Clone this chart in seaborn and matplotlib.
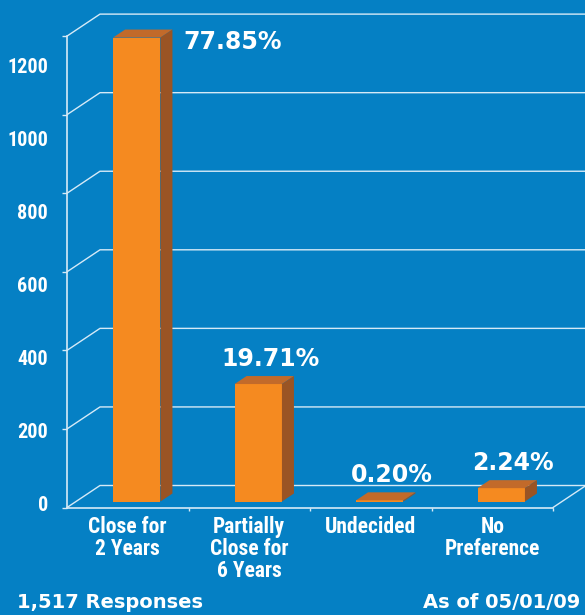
import matplotlib
matplotlib.use("Agg")
import matplotlib.pyplot as plt
import seaborn as sns
import pandas as pd
from matplotlib.patches import Polygon
from matplotlib import font_manager
from matplotlib.font_manager import FontProperties

# ---- data ----
categories = ["Close for\n2 Years", "Partially\nClose for\n6 Years", "Undecided", "No\nPreference"]
counts = [1181, 299, 3, 34]
pct_labels = ["77.85%", "19.71%", "0.20%", "2.24%"]
yticks = [0, 200, 400, 600, 800, 1000, 1200]
footer_left = "1,517 Responses"
footer_right = "As of 05/01/09"

# ---- style ----
BG = "#0580C4"
FRONT = "#F58A20"
TOP = "#C26A2A"
SIDE = "#9A5424"
GRID = "#D6EAF7"

sns.set_theme(style="white")
WIDE = "DejaVu Sans"
plt.rcParams["font.family"] = [WIDE]


def find_condensed():
    best = None
    score_best = -1
    for f in font_manager.fontManager.ttflist:
        fn = f.fname.lower()
        nm = f.name.lower()
        cond = ("condensed" in fn or "narrow" in fn or "condensed" in nm or "narrow" in nm
                or f.stretch in ("condensed", "semi-condensed", "extra-condensed"))
        if not cond:
            continue
        if "extra" in fn or "semicondensed" in fn or "semi" in fn:
            continue
        w = f.weight if isinstance(f.weight, int) else 700 if "bold" in str(f.weight) else 400
        bold = w >= 600 or "bold" in fn
        if not bold or "italic" in fn or "oblique" in fn:
            continue
        if "black" in fn or "extrabold" in fn or "semibold" in fn:
            continue
        s = 1
        if "noto" in fn:
            s = 3
        if "liberation" in fn or "roboto" in fn:
            s = 4
        if "dejavu" in fn:
            s = 2
        if s > score_best:
            score_best, best = s, f.fname
    return best


cpath = find_condensed()
if cpath:
    NFP = lambda size: FontProperties(fname=cpath, size=size)
    XS, YS = 15.5, 14.5
else:
    NFP = lambda size: FontProperties(family=WIDE, weight="bold", size=size)
    XS, YS = 12, 11.5

fig = plt.figure(figsize=(5.85, 6.15), dpi=100, facecolor=BG)
ax = fig.add_axes([67 / 585, 107.5 / 615, 486 / 585, 493 / 615])
ax.set_facecolor("none")

df = pd.DataFrame({"cat": categories, "count": counts})
sns.barplot(data=df, x="cat", y="count", color=FRONT, saturation=1, width=0.39,
            ax=ax, linewidth=0, zorder=3)

ax.set_xlim(-0.5, 3.5)
ax.set_ylim(0, 1255)

PX_X = 121.5      # px per category
PX_Y = 0.3929     # px per unit
DX, DY = 33 / PX_X, 22 / PX_Y        # back wall offset
FDX, FDY = 9 / PX_X, 6 / PX_Y        # bar front offset
BDX, BDY = 12 / PX_X, 8 / PX_Y       # bar depth

# back wall / floor grid
for v in yticks:
    ax.plot([-0.5, -0.5 + DX, 3.5 + DX], [v, v + DY, v + DY], color=GRID, lw=1.0,
            clip_on=False, zorder=1, solid_capstyle="butt")
ax.plot([3.5, 3.5 + DX], [0, DY], color=GRID, lw=1.0, clip_on=False, zorder=1)

# 3D bars
for i, p in enumerate(ax.patches):
    x0 = p.get_x() + FDX
    w = p.get_width()
    h = p.get_height()
    p.set_x(x0)
    p.set_y(FDY)
    top = FDY + h
    x1 = x0 + w
    ax.add_patch(Polygon([(x0, top), (x1, top), (x1 + BDX, top + BDY), (x0 + BDX, top + BDY)],
                         closed=True, facecolor=TOP, edgecolor="none", zorder=4))
    ax.add_patch(Polygon([(x1, FDY), (x1 + BDX, FDY + BDY), (x1 + BDX, top + BDY), (x1, top)],
                         closed=True, facecolor=SIDE, edgecolor="none", zorder=4))
    if i == 0:
        ax.text(x1 + BDX + 0.087, top - 28, pct_labels[i], ha="left", va="baseline",
                color="white", fontsize=17, fontweight="bold", family=WIDE, zorder=5)
    else:
        ax.text(x0 + w / 2 + 0.1, top + 46, pct_labels[i], ha="center", va="baseline",
                color="white", fontsize=17, fontweight="bold", family=WIDE, zorder=5)

# axes lines
for s in ["top", "right"]:
    ax.spines[s].set_visible(False)
ax.spines["left"].set_bounds(0, 1200)
ax.spines["left"].set_color(GRID)
ax.spines["left"].set_linewidth(1.2)
ax.spines["bottom"].set_color(GRID)
ax.spines["bottom"].set_linewidth(1.2)

ax.set_yticks(yticks)
ax.set_yticklabels([""] * len(yticks))
ax.tick_params(axis="y", left=True, length=3.6, width=1.0, color=GRID, direction="out")
ax.set_xticks(range(len(categories)))
ax.set_xticklabels(categories)
ax.set_xticks([0.5, 1.5, 2.5, 3.5], minor=True)
ax.tick_params(axis="x", which="major", length=0, pad=6, colors="white")
ax.tick_params(axis="x", which="minor", bottom=True, length=2.5, width=1.0, color=GRID,
               direction="out")
for t in ax.get_xticklabels():
    t.set_fontproperties(NFP(XS))
    t.set_linespacing(1.0)
    t.set_verticalalignment("top")
ax.set_xlabel("")
ax.set_ylabel("")

# y labels (drawn slightly compressed as in the original)
for v in yticks:
    ax.text(-0.5 - 19 / PX_X, 6 + v * 0.929, f"{v}", ha="right", va="center",
            color="white", fontproperties=NFP(YS))

fig.text(17 / 585, 1 - 602 / 615, footer_left, ha="left", va="center", color="white",
         fontsize=14, fontweight="bold", family=WIDE)
fig.text(423 / 585, 1 - 602 / 615, footer_right, ha="left", va="center", color="white",
         fontsize=14, fontweight="bold", family=WIDE)

fig.savefig("out.png", dpi=100, facecolor=BG)
